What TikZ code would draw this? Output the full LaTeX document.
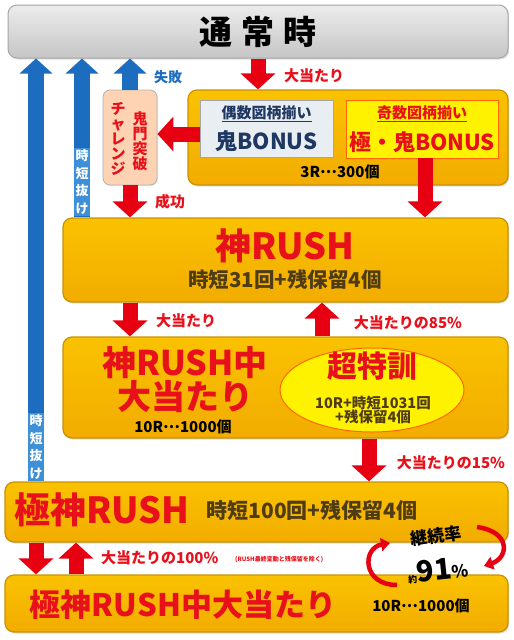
\documentclass[tikz,border=0pt]{standalone}
\usepackage{fontspec}
\setmainfont{Noto Sans CJK JP}
\usetikzlibrary{arrows.meta,shapes.geometric,calc,shadows}
\definecolor{boxY}{HTML}{F7B500}
\definecolor{boxTop}{HTML}{FAC200}
\definecolor{boxBot}{HTML}{F2AC00}
\definecolor{boxD}{HTML}{C89200}
\definecolor{redT}{HTML}{E8101A}
\definecolor{arrR}{HTML}{E60012}
\definecolor{blueA}{HTML}{1C6DBF}
\definecolor{blueL}{HTML}{3D8FD8}
\definecolor{navy}{HTML}{1F3863}
\definecolor{brownT}{HTML}{4F3C14}
\definecolor{peach}{HTML}{FDD3B4}
\definecolor{paleB}{HTML}{E9EEF2}
\newcommand{\fs}[1]{\fontsize{#1}{#1}\selectfont}
\newcommand{\mdots}{\raisebox{0.28em}{…}}
\begin{document}
\begin{tikzpicture}[x=1pt,y=-1pt,
  ybox/.style={rounded corners=9pt, top color=boxTop, bottom color=boxBot, draw=boxD, line width=1.2pt, minimum width=#1, inner sep=0pt,
               drop shadow={opacity=0.25, shadow xshift=1.2pt, shadow yshift=-1.5pt}},
  redarrow/.style={draw=arrR, line width=15pt, -{Triangle[length=16pt,width=34pt]}},
  bluearrow/.style={draw=blueA, line width=16pt, -{Triangle[length=15pt,width=32pt]}},
  redlbl/.style={text=redT, font=\bfseries\fs{15}, inner sep=0pt},
  bluelbl/.style={fill=blueL, text=white, font=\bfseries\fontsize{13}{17.5}\selectfont, align=center, inner sep=1.5pt},
  body/.style={font=\bfseries\fs{15}, inner sep=0pt},
]
\useasboundingbox (0,0) rectangle (514,640);
\fill[white] (0,0) rectangle (514,640);

% boxes
\node[rounded corners=9pt, top color=gray!15, bottom color=gray!45, draw=gray!70, line width=1pt,
      minimum width=500pt, minimum height=53pt,
      drop shadow={opacity=0.25, shadow xshift=1.2pt, shadow yshift=-1.5pt}] (tsujo) at (258,31.5) {};
\node[font=\bfseries\fs{33}, inner sep=0pt] (tsujoT) at (258,32) {通\hspace{9pt}常\hspace{9pt}時};

\node[ybox=320pt, minimum height=95pt] (bonus) at (348,137.5) {};
\node[fill=paleB, draw=gray!70, line width=0.8pt, minimum width=133pt, minimum height=57pt] (even) at (266.5,128.5) {};
\node[fill=yellow, draw=orange!80!red, line width=0.8pt, minimum width=152pt, minimum height=58pt] (odd) at (422,129) {};
\node[text=navy, font=\bfseries\fs{15}, inner sep=0pt] (evenT) at (266.5,114) {\underline{偶数図柄揃い}};
\node[text=navy, font=\bfseries\fs{22}, inner sep=0pt] (evenB) at (266.5,141) {鬼BONUS};
\node[text=redT, font=\bfseries\fs{15}, inner sep=0pt] (oddT) at (422,114) {\underline{奇数図柄揃い}};
\node[text=redT, font=\bfseries\fs{22}, inner sep=0pt] (oddB) at (422,142) {極・鬼BONUS};
\node[body] (bonusT) at (340,172) {3R\mdots300個};

\node[rounded corners=7pt, fill=peach, draw=gray!60, line width=0.8pt, minimum width=54pt, minimum height=95pt,
      drop shadow={opacity=0.2, shadow xshift=1pt, shadow yshift=-1pt}] (kimon) at (130,137.5) {};
\node[text=redT, font=\bfseries\fs{15}, align=center, inner sep=0pt] (kimonA) at (140,141) {\fontsize{15}{16.5}\selectfont 鬼\\門\\突\\破};
\node[text=redT, font=\bfseries\fs{15}, align=center, inner sep=0pt] (kimonB) at (118,139) {\fontsize{15}{16.5}\selectfont チ\\ャ\\レ\\ン\\ジ};

\node[ybox=445pt, minimum height=84pt] (kami) at (285.5,260) {};
\node[text=redT, font=\bfseries\fs{36}, inner sep=0pt] (kamiT) at (285,246) {神RUSH};
\node[text=brownT, font=\bfseries\fs{20.5}, inner sep=0pt] (kamiS) at (285,280) {時短31回+残保留4個};

\node[ybox=445pt, minimum height=101pt] (kamichu) at (285.5,387.5) {};
\node[text=redT, font=\bfseries\fs{34}, align=center, inner sep=0pt] (kamichuT) at (185,380) {\fontsize{34}{33}\selectfont 神RUSH中\\大当たり};
\node[body] (kamichuS) at (183,427) {10R\mdots1000個};
\node[ellipse, fill=yellow, draw=orange!80!red, line width=1pt, minimum width=184pt, minimum height=84pt] (tokun) at (372,390) {};
\node[text=redT, font=\bfseries\fs{30}, inner sep=0pt] (tokunT) at (372,366) {超特訓};
\node[text=brownT, font=\bfseries\fs{14.5}, align=center, inner sep=0pt] (tokunS) at (373,410) {\fontsize{14.5}{17}\selectfont 10R+時短1031回\\+残保留4個};

\node[ybox=503pt, minimum height=60pt] (goku) at (256.5,512) {};
\node[text=redT, font=\bfseries\fs{36}, inner sep=0pt] (gokuT) at (102,510) {極神RUSH};
\node[text=brownT, font=\bfseries\fs{21}, inner sep=0pt] (gokuS) at (312,510) {時短100回+残保留4個};

\node[ybox=503pt, minimum height=57pt] (gokuchu) at (256.5,603.5) {};
\node[text=redT, font=\bfseries\fs{31}, inner sep=0pt] (gokuchuT) at (183,605) {極神RUSH中大当たり};
\node[body] (gokuchuS) at (421,606) {10R\mdots1000個};

% x positions
\coordinate (xb1) at (36,0);
\coordinate (xb2) at (82,0);
\coordinate (xb3) at (130,0);
\coordinate (xr1) at (258,0);
\coordinate (xr2) at (425,0);
\coordinate (xr3) at (130,0);
\coordinate (xr4) at (322,0);
\coordinate (xr5) at (369,0);
\coordinate (xr6) at (36,0);
\coordinate (xr7) at (76,0);
\coordinate (yh) at (0,134);

% blue arrows
\draw[bluearrow] (goku.north -| xb1) -- (tsujo.south -| xb1);
\draw[bluearrow] (kami.north -| xb2) -- (tsujo.south -| xb2);
\draw[bluearrow] (kimon.north -| xb3) -- (tsujo.south -| xb3);
\node[bluelbl, anchor=south] (lblA) at (82,216) {時\\短\\抜\\け};
\node[bluelbl, anchor=south] (lblB) at (36,481) {時\\短\\抜\\け};
\node[text=blueA, font=\bfseries\fs{14}, inner sep=0pt] (shippai) at (168,77) {失敗};

% red arrows
\draw[redarrow] (tsujo.south -| xr1) -- (bonus.north -| xr1);
\draw[redarrow] (even.west |- yh) -- (kimon.east |- yh);
\draw[redarrow] (kimon.south -| xr3) -- (kami.north -| xr3);
\draw[redarrow] (odd.south -| xr2) -- (kami.north -| xr2);
\draw[redarrow] (kami.south -| xr3) -- (kamichu.north -| xr3);
\draw[redarrow] (kamichu.north -| xr4) -- (kami.south -| xr4);
\draw[redarrow] (kamichu.south -| xr5) -- (goku.north -| xr5);
\draw[redarrow] (goku.south -| xr6) -- (gokuchu.north -| xr6);
\draw[redarrow] (gokuchu.north -| xr7) -- (goku.south -| xr7);

\node[redlbl] (l1) at (314,76) {大当たり};
\node[redlbl] (l2) at (170,202) {成功};
\node[redlbl] (l3) at (186,321) {大当たり};
\node[redlbl] (l4) at (408,323) {大当たりの85\%};
\node[redlbl] (l5) at (451,463) {大当たりの15\%};
\node[redlbl, anchor=west] (l6) at (101,558) {大当たりの100\%};
\node[text=redT, font=\bfseries\fs{6}, inner sep=0pt, anchor=west] (l7) at (235,560) {(RUSH最終変動と残保留を除く)};

% continuation rate
\node[rotate=8, font=\bfseries\fs{17}, inner sep=0pt] (keizoku) at (436,536) {継続率};
\node[rotate=6, inner sep=0pt] (rate) at (438,570) {\bfseries\fs{9}約\fs{29}91\fs{17}\%};
\coordinate (cA0) at (477,527);
\coordinate (cA1) at (484,566);
\coordinate (cB0) at (397,585);
\coordinate (cB1) at (390,543);
\draw[draw=arrR, line width=4.5pt, -{Triangle[length=9pt,width=13pt]}] (cA0) .. controls (512,532) and (508,558) .. (cA1);
\draw[draw=arrR, line width=4.5pt, -{Triangle[length=9pt,width=13pt]}] (cB0) .. controls (362,585) and (362,548) .. (cB1);
\end{tikzpicture}
\end{document}
